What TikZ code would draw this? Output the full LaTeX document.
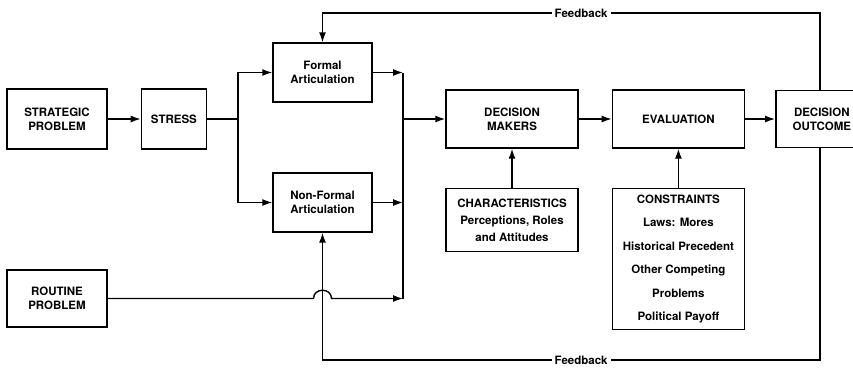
\documentclass[tikz,border=0pt]{standalone}
\usepackage{fontspec}
\setmainfont{TeX Gyre Heros}
\usetikzlibrary{arrows.meta}
\usetikzlibrary{positioning, calc}

\begin{document}
\begin{tikzpicture}[x=1pt, y=-1pt, line width=1.4pt, >={Latex[length=10pt,width=7pt]}]
              \tikzstyle{block} = [rectangle, draw=black, align=center, inner sep=0pt, font=\fontsize{11.5}{14}\selectfont\bfseries]
              \tikzstyle{fblabel} = [fill=white, inner sep=3pt, font=\fontsize{11.5}{12}\selectfont\bfseries]
              \useasboundingbox (0,0) rectangle (853,368);
              \node (sp) [block, minimum width=100pt, minimum height=60pt] at (57,119) {STRATEGIC\\PROBLEM};
              \node (stress) [block, minimum width=65pt, minimum height=60pt, right=33pt of sp] {STRESS};
              \node (fa) [block, minimum width=99pt, minimum height=59pt] at (322.5,72.5) {Formal\\Articulation};
              \node (nfa) [block, minimum width=99pt, minimum height=59pt] at (322.5,202.5) {Non-Formal\\Articulation};
              \node (rp) [block, minimum width=100pt, minimum height=57pt] at (57,298.5) {ROUTINE\\PROBLEM};
              \node (dm) [block, minimum width=132pt, minimum height=58pt] at (512,119) {DECISION\\MAKERS};
              \node (ev) [block, minimum width=132pt, minimum height=58pt, right=33pt of dm] {EVALUATION};
              \node (do) [block, minimum width=92pt, minimum height=57pt, right=30pt of ev] {DECISION\\OUTCOME};
              \node (ch) [block, minimum width=132pt, minimum height=63pt, below=39pt of dm, font=\fontsize{11.5}{17}\selectfont\bfseries] {CHARACTERISTICS\\Perceptions, Roles\\and Attitudes};
              \node (co) [block, minimum width=132pt, minimum height=141pt, below=39pt of ev, font=\fontsize{11.5}{23.5}\selectfont\bfseries] {CONSTRAINTS\\Laws: Mores\\Historical Precedent\\Other Competing\\Problems\\Political Payoff};
              \coordinate (split) at (238,119);
              \coordinate (merge) at (403,119);
              \coordinate (high) at (0,13);
              \coordinate (low) at (0,360);
              \coordinate (fbup) at ([xshift=-2pt]do.north);
              \coordinate (fbdown) at ([xshift=-2pt]do.south);
              \draw[->] (sp) -- (stress);
              \draw (stress) -- (split);
              \draw[->] (split) |- (fa);
              \draw[->] (split) |- (nfa);
              \draw[->] (fa) -- (fa -| merge);
              \draw[->] (nfa) -- (nfa -| merge);
              \draw (fa -| merge) -- (rp -| merge);
              \draw[->] (rp) -- ([xshift=-9pt]rp -| fa) .. controls +(0,-11) and +(0,-11) .. ([xshift=9pt]rp -| fa) -- (rp -| merge);
              \draw[->] (merge) -- (dm);
              \draw[->] (dm) -- (ev);
              \draw[->] (ev) -- (do);
              \draw[->] (ch) -- (dm);
              \draw[->] (co) -- (ev);
              \draw[->] (fbup) -- (fbup |- high) -- node[fblabel, pos=0.48] {Feedback} (fa.north |- high) -- (fa.north);
              \draw[->] (fbdown) -- (fbdown |- low) -- node[fblabel, pos=0.48] {Feedback} (nfa.south |- low) -- (nfa.south);
            \end{tikzpicture}
\end{document}
